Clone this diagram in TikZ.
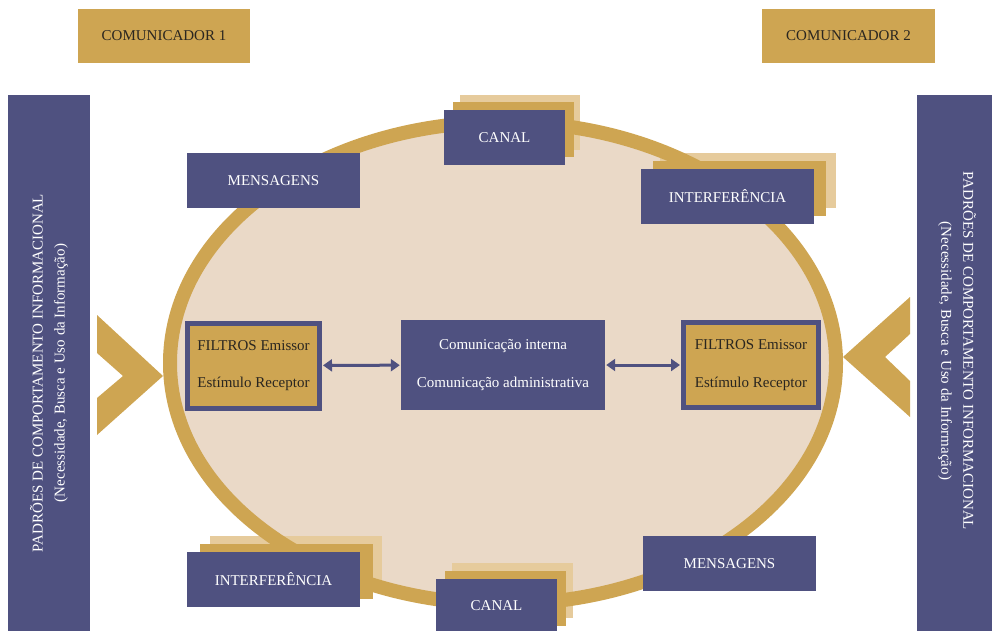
\documentclass[tikz,border=0pt]{standalone}
\usepackage{fontspec}
\setmainfont{Liberation Serif}
\usetikzlibrary{arrows.meta}
\definecolor{roxo}{HTML}{4F5180}
\definecolor{ouro}{HTML}{CEA552}
\definecolor{ouroclaro}{HTML}{E6CB9C}
\definecolor{bege}{HTML}{EAD9C7}
\definecolor{tinta}{HTML}{2A2620}
\begin{document}
\begin{tikzpicture}[x=1pt,y=-1pt,
    texto/.style={font=\fontsize{15}{17.5}\selectfont},
    caixa/.style={texto,fill=roxo,text=white,inner sep=0pt,minimum width=173pt,minimum height=55pt},
    comunicador/.style={texto,fill=ouro,text=tinta,inner sep=0pt,minimum width=172pt,minimum height=54pt},
    filtro/.style={texto,fill=ouro,draw=roxo,line width=5pt,text=tinta,align=center,inner sep=0pt,minimum height=85pt},
    lateral/.style={font=\fontsize{15}{22}\selectfont,text=white,align=center,inner sep=0pt},
    seta/.style={{Triangle[length=9pt,width=12pt]}-{Triangle[length=9pt,width=12pt]},line width=3pt,draw=roxo,shorten <=1pt,shorten >=1pt}]
  \useasboundingbox (0,0) rectangle (992,631);
  % fundo da elipse
  \fill[bege] (503,363) ellipse [x radius=333, y radius=241];
  % sombras claras
  \fill[ouroclaro] (460,95) rectangle (580,150);
  \fill[ouroclaro] (660,153) rectangle (836,208);
  \fill[ouroclaro] (210,536) rectangle (382,592);
  \fill[ouroclaro] (452,563) rectangle (573,618);
  % anel
  \draw[ouro,line width=14pt] (503,363) ellipse [x radius=333, y radius=241];
  % sombras douradas
  \fill[ouro] (453,102) rectangle (574,157);
  \fill[ouro] (653,161) rectangle (826,216);
  \fill[ouro] (200,544) rectangle (373,599);
  \fill[ouro] (445,571) rectangle (566,626);
  % barras laterais
  \fill[roxo] (8,95) rectangle (90,631);
  \fill[roxo] (917,95) rectangle (992,631);
  \node[lateral,rotate=90] (padroesE) at (49,373) {PADRÕES DE COMPORTAMENTO INFORMACIONAL\\(Necessidade, Busca e Uso da Informação)};
  \node[lateral,rotate=-90] (padroesD) at (957,351) {PADRÕES DE COMPORTAMENTO INFORMACIONAL\\(Necessidade, Busca e Uso da Informação)};
  % setas largas
  \fill[ouro] (97,315) -- (163,376) -- (97,435) -- (97,398) -- (123,376) -- (97,353) -- cycle;
  \fill[ouro] (910,297) -- (843,357) -- (910,417) -- (910,381) -- (885,357) -- (910,334) -- cycle;
  % caixas
  \node[comunicador] (com1) at (164,36) {COMUNICADOR 1};
  \node[comunicador,minimum width=173pt] (com2) at (848.5,36) {COMUNICADOR 2};
  \node[caixa,minimum width=121pt] (canal1) at (504.5,137.5) {CANAL};
  \node[caixa] (interf1) at (727.5,196.5) {INTERFERÊNCIA};
  \node[caixa] (mens1) at (273.5,180.5) {MENSAGENS};
  \node[caixa] (interf2) at (273.5,579.5) {INTERFERÊNCIA};
  \node[caixa,minimum width=121pt] (canal2) at (496.5,606) {CANAL};
  \node[caixa] (mens2) at (729.5,563.5) {MENSAGENS};
  \node[caixa,align=center,minimum width=204pt,minimum height=90pt] (centro) at (503,365) {Comunicação interna\\[20pt]Comunicação administrativa};
  \node[filtro,minimum width=132pt] (filtroE) at (253.5,365.5) {FILTROS Emissor\\[20pt]Estímulo Receptor};
  \node[filtro,minimum width=135pt] (filtroD) at (751,365) {FILTROS Emissor\\[20pt]Estímulo Receptor};
  \draw[seta] (filtroE) -- (centro);
  \draw[seta] (centro) -- (filtroD);
\end{tikzpicture}
\end{document}
